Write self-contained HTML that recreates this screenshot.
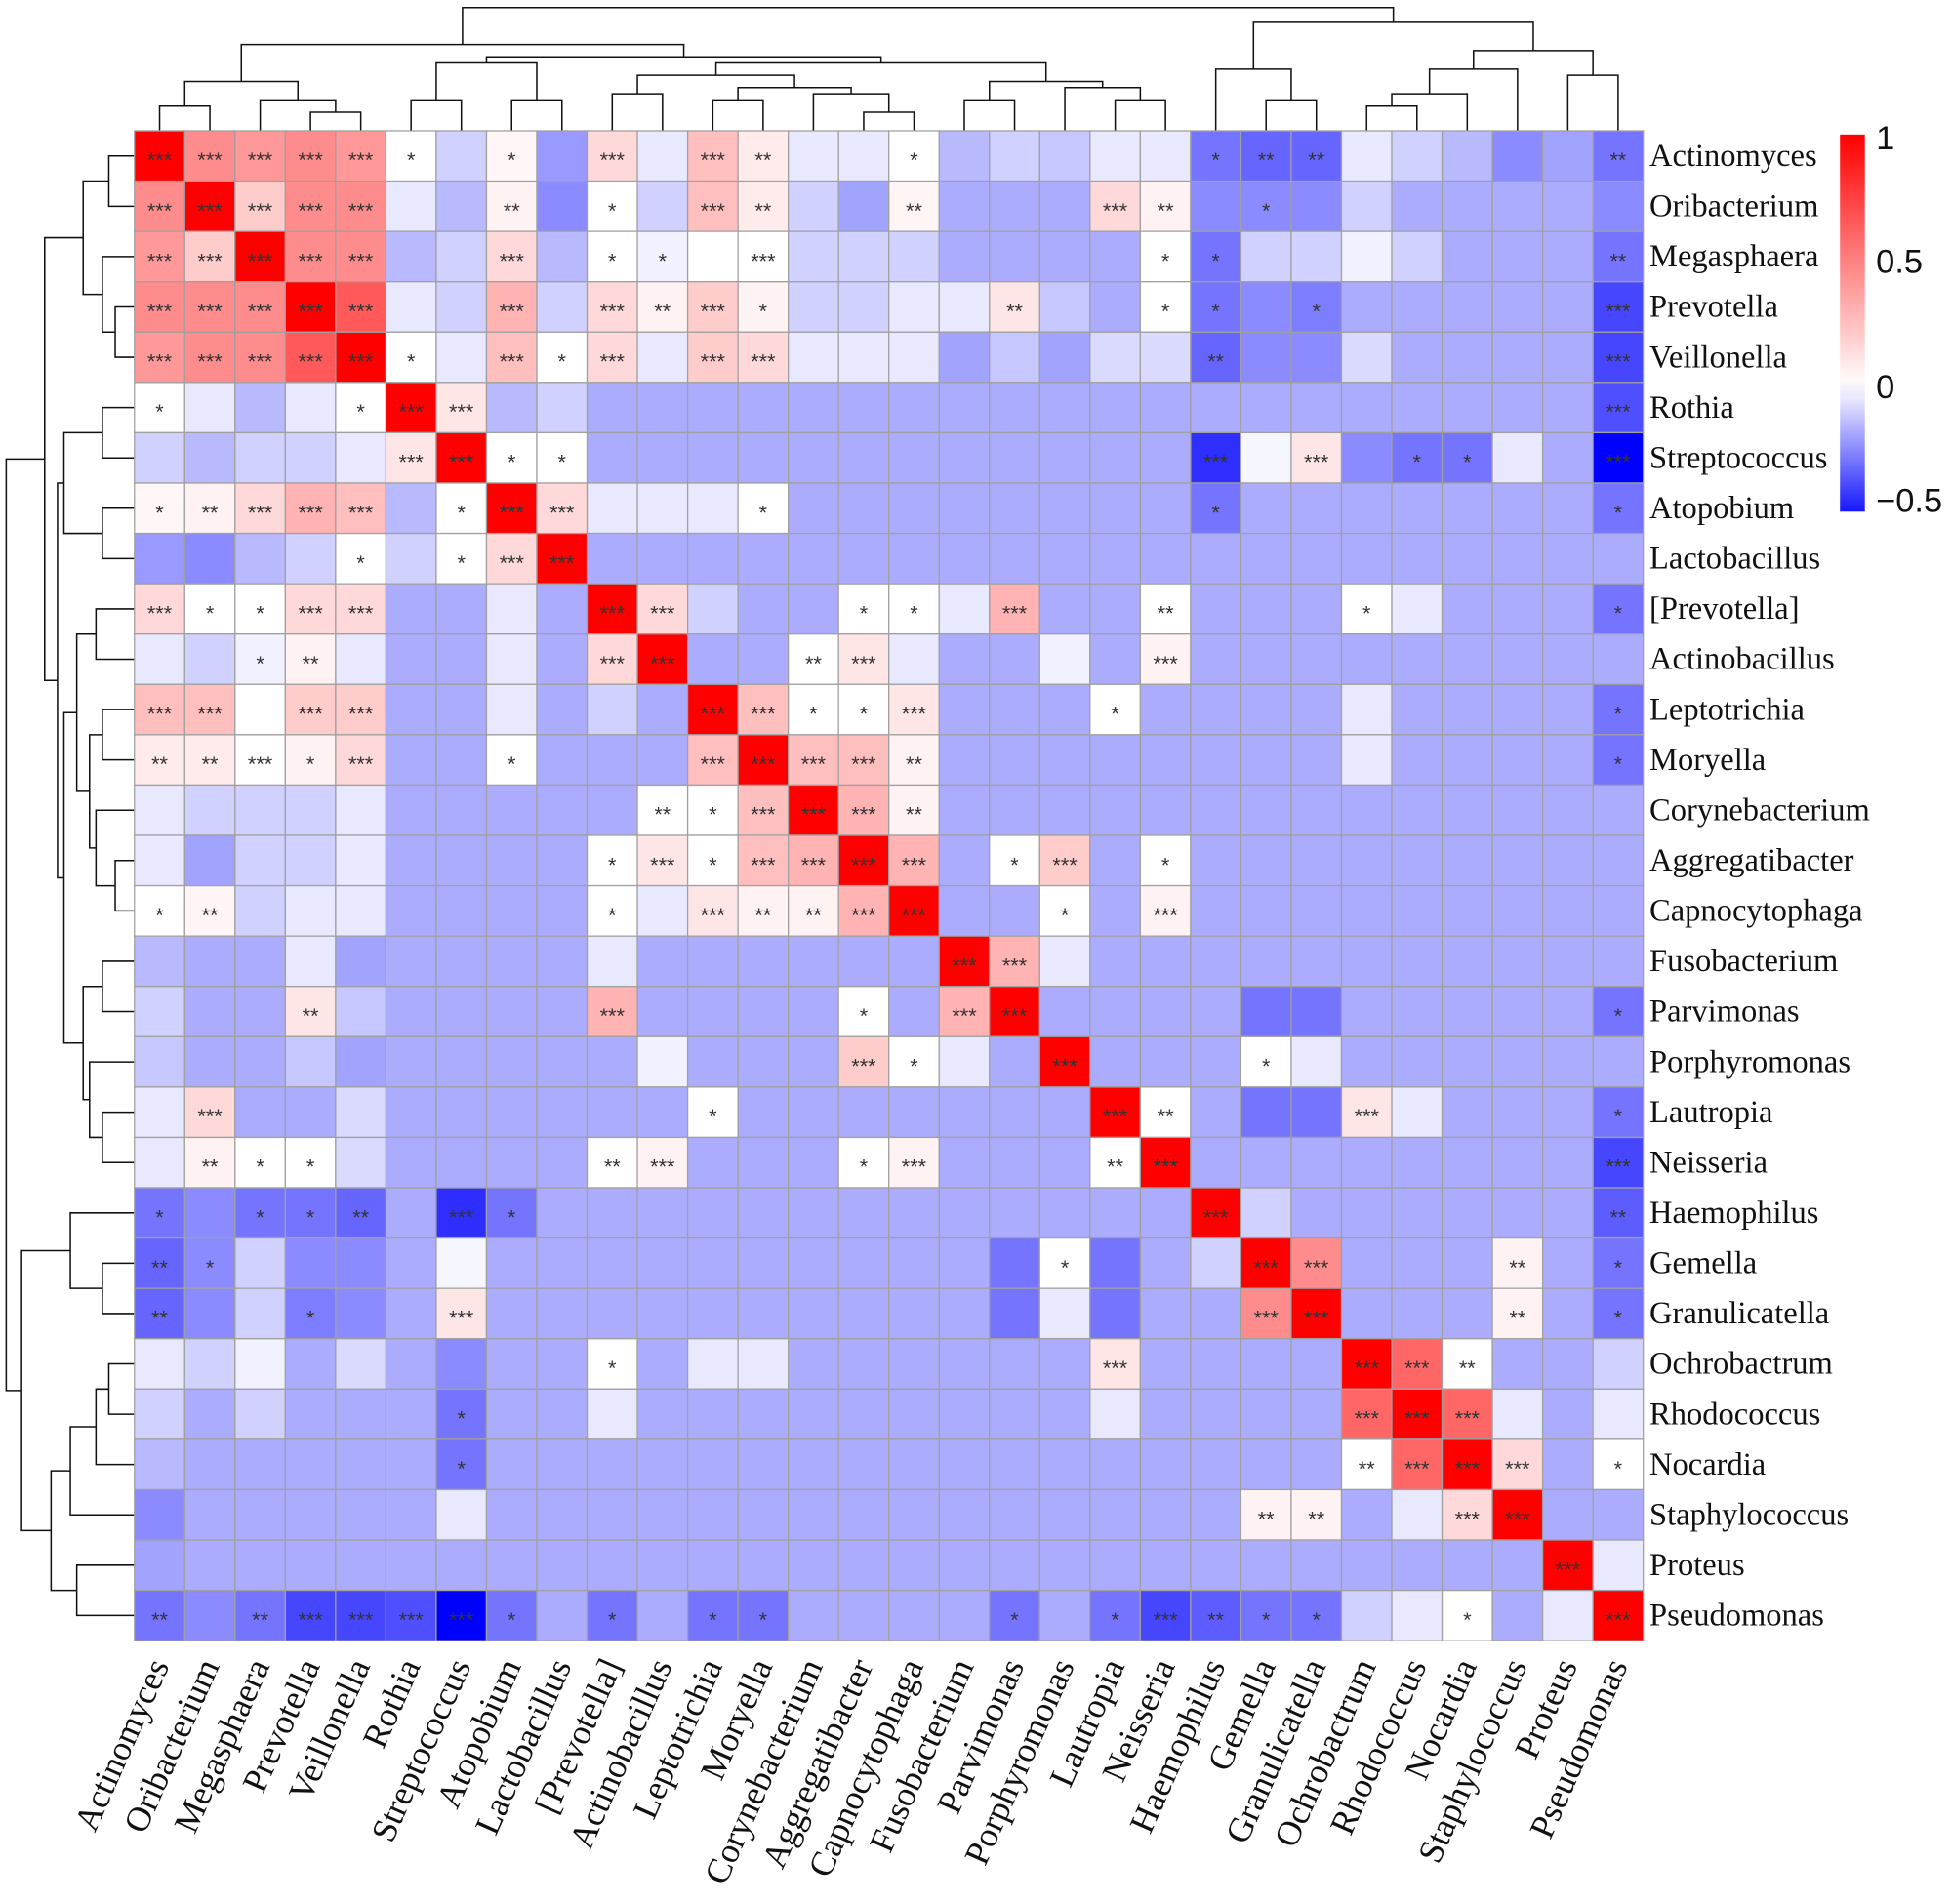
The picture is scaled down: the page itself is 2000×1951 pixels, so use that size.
<!DOCTYPE html>
<html><head><meta charset="utf-8"><style>
html,body{margin:0;padding:0;background:#fff;}
svg{display:block;}
</style></head><body>
<svg id="chart" width="2000" height="1951" viewBox="0 0 1568 1529.5" xmlns="http://www.w3.org/2000/svg">
<g id="dendro-top"></g>
<g id="dendro-left"></g>
<g id="cells"></g>
<g id="rowlabels"></g>
<g id="collabels"></g>
<g id="legend"></g>
</svg>
<script>
const taxa = ["Actinomyces","Oribacterium","Megasphaera","Prevotella","Veillonella","Rothia","Streptococcus","Atopobium","Lactobacillus","[Prevotella]","Actinobacillus","Leptotrichia","Moryella","Corynebacterium","Aggregatibacter","Capnocytophaga","Fusobacterium","Parvimonas","Porphyromonas","Lautropia","Neisseria","Haemophilus","Gemella","Granulicatella","Ochrobactrum","Rhodococcus","Nocardia","Staphylococcus","Proteus","Pseudomonas"];
const defaultValue = -0.18;
// [row, col, value, stars] (symmetric)
const corrValues = [
[0,1,0.45,"***"],[0,2,0.4,"***"],[0,3,0.45,"***"],[0,4,0.4,"***"],[0,5,0.0,"*"],[0,6,-0.1,""],[0,7,0.03,"*"],[0,8,-0.22,""],[0,9,0.15,"***"],[0,10,-0.05,""],[0,11,0.25,"***"],[0,12,0.08,"**"],[0,13,-0.05,""],[0,14,-0.05,""],[0,15,0,"*"],[0,16,-0.15,""],[0,17,-0.1,""],[0,18,-0.12,""],[0,19,-0.05,""],[0,20,-0.05,""],[0,21,-0.3,"*"],[0,22,-0.33,"**"],[0,23,-0.33,"**"],[0,24,-0.05,""],[0,25,-0.1,""],[0,26,-0.15,""],[0,27,-0.25,""],[0,28,-0.2,""],[0,29,-0.3,"**"],
[1,2,0.2,"***"],[1,3,0.45,"***"],[1,4,0.45,"***"],[1,5,-0.05,""],[1,6,-0.15,""],[1,7,0.05,"**"],[1,8,-0.25,""],[1,9,0,"*"],[1,10,-0.1,""],[1,11,0.25,"***"],[1,12,0.08,"**"],[1,13,-0.1,""],[1,14,-0.2,""],[1,15,0.04,"**"],[1,19,0.15,"***"],[1,20,0.05,"**"],[1,21,-0.25,""],[1,22,-0.25,"*"],[1,23,-0.25,""],[1,24,-0.1,""],[1,29,-0.25,""],
[2,3,0.45,"***"],[2,4,0.45,"***"],[2,5,-0.15,""],[2,6,-0.1,""],[2,7,0.15,"***"],[2,8,-0.15,""],[2,9,0,"*"],[2,10,-0.03,"*"],[2,11,0,""],[2,12,0,"***"],[2,13,-0.1,""],[2,14,-0.1,""],[2,15,-0.1,""],[2,20,0,"*"],[2,21,-0.3,"*"],[2,22,-0.1,""],[2,23,-0.1,""],[2,24,-0.03,""],[2,25,-0.1,""],[2,29,-0.3,"**"],
[3,4,0.65,"***"],[3,5,-0.05,""],[3,6,-0.1,""],[3,7,0.3,"***"],[3,8,-0.1,""],[3,9,0.15,"***"],[3,10,0.05,"**"],[3,11,0.2,"***"],[3,12,0.05,"*"],[3,13,-0.1,""],[3,14,-0.1,""],[3,15,-0.05,""],[3,16,-0.05,""],[3,17,0.1,"**"],[3,18,-0.12,""],[3,20,0,"*"],[3,21,-0.3,"*"],[3,22,-0.25,""],[3,23,-0.28,"*"],[3,29,-0.4,"***"],
[4,5,0,"*"],[4,6,-0.05,""],[4,7,0.25,"***"],[4,8,0,"*"],[4,9,0.15,"***"],[4,10,-0.05,""],[4,11,0.2,"***"],[4,12,0.15,"***"],[4,13,-0.05,""],[4,14,-0.05,""],[4,15,-0.05,""],[4,16,-0.2,""],[4,17,-0.12,""],[4,18,-0.2,""],[4,19,-0.08,""],[4,20,-0.08,""],[4,21,-0.33,"**"],[4,22,-0.25,""],[4,23,-0.25,""],[4,24,-0.08,""],[4,29,-0.4,"***"],
[5,6,0.1,"***"],[5,7,-0.15,""],[5,8,-0.1,""],[5,29,-0.38,"***"],
[6,7,0,"*"],[6,8,0,"*"],[6,21,-0.45,"***"],[6,22,-0.02,""],[6,23,0.1,"***"],[6,24,-0.25,""],[6,25,-0.3,"*"],[6,26,-0.3,"*"],[6,27,-0.05,""],[6,29,-0.55,"***"],
[7,8,0.15,"***"],[7,9,-0.05,""],[7,10,-0.05,""],[7,11,-0.05,""],[7,12,0,"*"],[7,21,-0.3,"*"],[7,29,-0.3,"*"],
[9,10,0.15,"***"],[9,11,-0.1,""],[9,14,0,"*"],[9,15,0,"*"],[9,16,-0.05,""],[9,17,0.3,"***"],[9,20,0,"**"],[9,24,0,"*"],[9,25,-0.05,""],[9,29,-0.3,"*"],
[10,13,0,"**"],[10,14,0.1,"***"],[10,15,-0.05,""],[10,18,-0.03,""],[10,20,0.05,"***"],
[11,12,0.25,"***"],[11,13,0,"*"],[11,14,0,"*"],[11,15,0.1,"***"],[11,19,0,"*"],[11,24,-0.05,""],[11,29,-0.3,"*"],
[12,13,0.25,"***"],[12,14,0.25,"***"],[12,15,0.05,"**"],[12,24,-0.05,""],[12,29,-0.3,"*"],
[13,14,0.3,"***"],[13,15,0.05,"**"],
[14,15,0.3,"***"],[14,17,0,"*"],[14,18,0.2,"***"],[14,20,0,"*"],
[15,18,0,"*"],[15,20,0.05,"***"],
[16,17,0.3,"***"],[16,18,-0.05,""],
[17,22,-0.3,""],[17,23,-0.3,""],[17,29,-0.3,"*"],
[18,22,0,"*"],[18,23,-0.05,""],
[19,20,0,"**"],[19,22,-0.3,""],[19,23,-0.3,""],[19,24,0.1,"***"],[19,25,-0.05,""],[19,29,-0.3,"*"],
[20,29,-0.4,"***"],
[21,22,-0.1,""],[21,29,-0.35,"**"],
[22,23,0.45,"***"],[22,27,0.05,"**"],[22,29,-0.3,"*"],
[23,27,0.05,"**"],[23,29,-0.3,"*"],
[24,25,0.6,"***"],[24,26,0,"**"],[24,29,-0.1,""],
[25,26,0.6,"***"],[25,27,-0.05,""],[25,29,-0.05,""],
[26,27,0.15,"***"],[26,29,0,"*"],
[28,29,-0.05,""]
];
// dendrogram merges: [left, right, distance 0..100]; nodes indexed from 30 upward
const merges = [
[0,1,20],[3,4,15],[2,31,25],[30,32,40],
[5,6,25],[7,8,25],[34,35,55],
[9,10,30],[11,12,25],[14,15,15],[13,39,30],[38,40,35],[37,41,45],
[16,17,25],[19,20,25],[18,44,35],[43,45,40],[42,46,55],
[36,47,60],[33,48,70],
[22,23,25],[21,50,50],[24,25,20],[52,26,30],[53,27,50],[28,29,45],[54,55,65],[51,56,88],
[49,57,100]
];

const NS="http://www.w3.org/2000/svg";
const X0=108,Y0=105,X1=1320,Y1=1318,N=taxa.length;
const cw=(X1-X0)/N,ch=(Y1-Y0)/N;
const xPos=i=>X0+cw*i, yPos=i=>Y0+ch*i;
function mk(tag,attrs,parent){const e=document.createElementNS(NS,tag);for(const k in attrs)e.setAttribute(k,attrs[k]);parent.appendChild(e);return e;}
function color(v){
  let r,g,b;
  if(v>=0){const t=Math.min(v,1);r=255;g=Math.round(255*(1-t));b=g;}
  else{const t=Math.min(-v/0.55,1);r=Math.round(255*(1-t));g=r;b=255;}
  return `rgb(${r},${g},${b})`;
}
const M=[],S=[];
for(let i=0;i<N;i++){M.push([]);S.push([]);for(let j=0;j<N;j++){M[i].push(i===j?1:defaultValue);S[i].push(i===j?"***":"");}}
corrValues.forEach(([i,j,v,s])=>{M[i][j]=v;M[j][i]=v;S[i][j]=s;S[j][i]=s;});

const cells=document.getElementById('cells');
for(let i=0;i<N;i++)for(let j=0;j<N;j++){
  const r=mk('rect',{x:xPos(j),y:yPos(i),width:cw,height:ch,fill:color(M[i][j]),stroke:'#a0a0a0','stroke-width':1},cells);
  
  
  if(S[i][j]){
    const t=mk('text',{x:xPos(j)+cw/2,y:yPos(i)+ch/2+9,'text-anchor':'middle','font-family':'Liberation Sans, sans-serif','font-size':17,fill:'#333'},cells);
    t.textContent=S[i][j];
    
    
  }
}
const rl=document.getElementById('rowlabels');
taxa.forEach((n,i)=>{
  const t=mk('text',{x:1325,y:yPos(i)+ch/2+8,'font-family':'Liberation Serif, serif','font-size':25.5,fill:'#111'},rl);
  t.textContent=n;
  
  
});
const cl=document.getElementById('collabels');
taxa.forEach((n,j)=>{
  const cx=xPos(j)+cw/2+8,cy=1338;
  const t=mk('text',{x:cx,y:cy,'text-anchor':'end','font-family':'Liberation Serif, serif','font-size':28,fill:'#111',transform:`rotate(-66 ${cx} ${cy})`},cl);
  t.textContent=n;
  
  
});
// dendrograms
const pos={},dist={};
for(let i=0;i<N;i++){pos[i]=i+0.5;dist[i]=0;}
const dt=document.getElementById('dendro-top'),dl=document.getElementById('dendro-left');
const hTop=d=>105-d*0.99, hLeft=d=>108-d*1.03;
merges.forEach(([a,b,d],k)=>{
  const id=N+k;pos[id]=(pos[a]+pos[b])/2;dist[id]=d;
  const xa=X0+pos[a]*cw,xb=X0+pos[b]*cw;
  const p1=mk('path',{d:`M${xa},${hTop(dist[a])}V${hTop(d)}H${xb}V${hTop(dist[b])}`,fill:'none',stroke:'#111','stroke-width':1.2},dt);
  
  
  const ya=Y0+pos[a]*ch,yb=Y0+pos[b]*ch;
  const p2=mk('path',{d:`M${hLeft(dist[a])},${ya}H${hLeft(d)}V${yb}H${hLeft(dist[b])}`,fill:'none',stroke:'#111','stroke-width':1.2},dl);
  
  
});
// legend
const lg=document.getElementById('legend');
const legendTicks=[1,0.5,0,-0.5];
const defs=mk('defs',{},lg);
const grad=mk('linearGradient',{id:'cg',x1:0,y1:0,x2:0,y2:1},defs);
for(let k=0;k<=20;k++){const v=1-1.5*k/20;mk('stop',{offset:(k/20),'stop-color':color(v)},grad);}
const lb=mk('rect',{x:1478,y:108,width:20,height:303,fill:'url(#cg)'},lg);


const vy=v=>108+(1-v)/1.5*303;
legendTicks.forEach(v=>{
  const t=mk('text',{x:1507,y:vy(v)+10+(v===1?2:0)-(v===-0.5?10:0),'font-family':'Liberation Sans, sans-serif','font-size':27,fill:'#111'},lg);
  t.textContent=v<0?'\u2212'+Math.abs(v):String(v);
  
  
});
</script>
</body></html>
